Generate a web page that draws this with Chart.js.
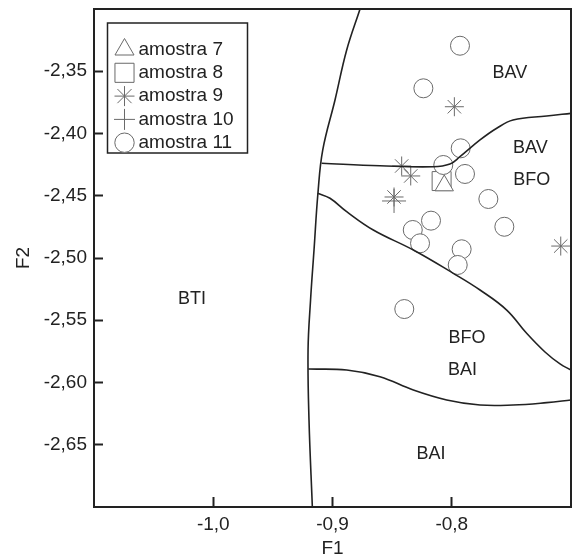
<!DOCTYPE html>
<html>
<head>
<meta charset="utf-8">
<script src="https://cdn.jsdelivr.net/npm/chart.js@4.4.1/dist/chart.umd.min.js"></script>
<style>
  html, body { margin: 0; padding: 0; background: #fff; }
  #wrap { width: 574px; height: 556px; }
</style>
</head>
<body>
<div id="wrap"><canvas id="chart" width="574" height="556"></canvas></div>
<script>
// ---- Axis ticks ----
const xTickValues = [-1.0, -0.9, -0.8];
const yTickValues = [-2.35, -2.40, -2.45, -2.50, -2.55, -2.60, -2.65];

// ---- Samples (F1, F2) ----
const amostra7F1 = [-0.8063];
const amostra7F2 = [-2.4418];

const amostra8F1 = [-0.8085];
const amostra8F2 = [-2.4382];

const amostra9F1 = [-0.7978, -0.8420, -0.8344, -0.8484, -0.7086];
const amostra9F2 = [-2.3785, -2.4261, -2.4341, -2.4510, -2.4904];

const amostra10F1 = [-0.8484];
const amostra10F2 = [-2.4542];

const amostra11F1 = [-0.7931, -0.8238, -0.7925, -0.8071, -0.7889, -0.7693, -0.7559,
                     -0.8174, -0.8327, -0.8266, -0.7917, -0.7950, -0.8398];
const amostra11F2 = [-2.3295, -2.3637, -2.4119, -2.4253, -2.4325, -2.4526, -2.4749,
                     -2.4700, -2.4775, -2.4882, -2.4930, -2.5056, -2.5410];

// ---- Discriminant boundaries ----
const btiEdgeF1 = [-0.8769, -0.8881, -0.8979, -0.9082, -0.9122, -0.9155, -0.9184, -0.9205, -0.9197, -0.9169];
const btiEdgeF2 = [-2.3000, -2.3329, -2.3731, -2.4133, -2.4478, -2.4936, -2.5337, -2.5739, -2.6301, -2.7000];

const bavEdgeF1 = [-0.9091, -0.8602, -0.8157, -0.8015, -0.7931, -0.7763, -0.7623, -0.7486, -0.7204, -0.7000];
const bavEdgeF2 = [-2.4239, -2.4259, -2.4267, -2.4245, -2.4186, -2.4052, -2.3958, -2.3892, -2.3859, -2.3838];

const bfoEdgeF1 = [-0.9124, -0.9021, -0.8881, -0.8658, -0.8322, -0.7987, -0.7763, -0.7539, -0.7372, -0.7218, -0.7092, -0.7000];
const bfoEdgeF2 = [-2.4480, -2.4520, -2.4628, -2.4775, -2.4936, -2.5123, -2.5257, -2.5418, -2.5605, -2.5755, -2.5851, -2.5900];

const baiEdgeF1 = [-0.9203, -0.8881, -0.8602, -0.8322, -0.8042, -0.7763, -0.7486, -0.7204, -0.7000];
const baiEdgeF2 = [-2.5892, -2.5900, -2.5953, -2.6060, -2.6140, -2.6181, -2.6181, -2.6162, -2.6141];

// ---- Region labels ----
const regionNames = ['BAV', 'BAV', 'BFO', 'BFO', 'BAI', 'BAI', 'BTI'];
const regionF1 = [-0.7512, -0.7340, -0.7330, -0.7872, -0.7910, -0.8174, -1.0178];
const regionF2 = [-2.3518, -2.4120, -2.4373, -2.5639, -2.5896, -2.6572, -2.5329];

// ---- Helpers ----
const FONT = '"Liberation Sans", Arial, Helvetica, sans-serif';
const INK = '#222222';
const MARK = '#6a6a6a';

function toPoints(xs, ys) {
    return xs.map((v, i) => ({ x: v, y: ys[i] }));
}

function commaNum(v, digits) {
    return v.toFixed(digits).replace('.', ',');
}

function sampleSet(label, xs, ys, style, radius, order) {
    return {
        label: label,
        data: toPoints(xs, ys),
        pointStyle: style,
        pointRadius: radius,
        pointBorderColor: MARK,
        pointBackgroundColor: '#ffffff',
        pointBorderWidth: 1,
        showLine: false,
        order: order
    };
}

function edgeSet(xs, ys) {
    return {
        label: '',
        data: toPoints(xs, ys),
        showLine: true,
        borderColor: INK,
        borderWidth: 1.6,
        pointRadius: 0,
        tension: 0.4,
        fill: false,
        order: 0
    };
}

// no scale padding: the plot box is fixed
function fixBox(s, size) {
    if (s.isHorizontal()) s.height = size; else s.width = size;
    s.paddingLeft = 0;
    s.paddingRight = 0;
    s.paddingTop = 0;
    s.paddingBottom = 0;
}

const legendItems = [
    { text: 'amostra 7', style: 'triangle', r: 11 },
    { text: 'amostra 8', style: 'rect', r: 13.5 },
    { text: 'amostra 9', style: 'star', r: 10 },
    { text: 'amostra 10', style: 'cross', r: 10.5 },
    { text: 'amostra 11', style: 'circle', r: 9.7 }
];

// ---- Frame, region names and legend box ----
const decorPlugin = {
    id: 'decor',
    afterDraw(chart) {
        const { ctx, chartArea: a, scales: { x, y } } = chart;
        ctx.save();

        ctx.strokeStyle = INK;
        ctx.lineWidth = 2;
        ctx.strokeRect(a.left, a.top, a.right - a.left, a.bottom - a.top);

        ctx.fillStyle = INK;
        ctx.font = '18px ' + FONT;
        ctx.textAlign = 'center';
        ctx.textBaseline = 'middle';
        regionNames.forEach((t, i) => {
            ctx.fillText(t, x.getPixelForValue(regionF1[i]), y.getPixelForValue(regionF2[i]));
        });

        // legend
        const bx = a.left + 13.5, by = a.top + 14;
        ctx.lineWidth = 1.5;
        ctx.strokeStyle = INK;
        ctx.fillStyle = '#ffffff';
        ctx.fillRect(bx, by, 140, 130);
        ctx.strokeRect(bx, by, 140, 130);

        ctx.font = '19px ' + FONT;
        ctx.textAlign = 'left';
        legendItems.forEach((it, i) => {
            const cy = by + 26.5 + i * 23.3;
            ctx.strokeStyle = MARK;
            ctx.fillStyle = '#ffffff';
            ctx.lineWidth = 1;
            Chart.helpers.drawPoint(ctx, { pointStyle: it.style, radius: it.r, rotation: 0, borderWidth: 1 }, bx + 17, cy);
            ctx.fillStyle = INK;
            ctx.fillText(it.text, bx + 31, cy);
        });

        ctx.restore();
    }
};

// ---- Chart ----
function initChart() {
    const ctx = document.getElementById('chart');

    new Chart(ctx, {
        type: 'scatter',
        data: {
            datasets: [
                sampleSet('amostra 7', amostra7F1, amostra7F2, 'triangle', 10.6, 1),
                sampleSet('amostra 8', amostra8F1, amostra8F2, 'rect', 13.4, 3),
                sampleSet('amostra 9', amostra9F1, amostra9F2, 'star', 9.5, 4),
                sampleSet('amostra 10', amostra10F1, amostra10F2, 'cross', 12, 5),
                sampleSet('amostra 11', amostra11F1, amostra11F2, 'circle', 9.5, 2),
                edgeSet(btiEdgeF1, btiEdgeF2),
                edgeSet(bavEdgeF1, bavEdgeF2),
                edgeSet(bfoEdgeF1, bfoEdgeF2),
                edgeSet(baiEdgeF1, baiEdgeF2)
            ]
        },
        options: {
            responsive: false,
            animation: false,
            devicePixelRatio: 1,
            events: [],
            layout: {
                autoPadding: false,
                padding: { top: 9, right: 3, left: 0, bottom: 0 }
            },
            plugins: {
                legend: { display: false },
                tooltip: { enabled: false }
            },
            scales: {
                x: {
                    type: 'linear',
                    min: -1.1,
                    max: -0.7,
                    afterBuildTicks: s => { s.ticks = xTickValues.map(v => ({ value: v })); },
                    afterFit: s => fixBox(s, 49),
                    ticks: {
                        color: INK,
                        font: { family: FONT, size: 19 },
                        padding: 16,
                        maxRotation: 0,
                        callback: v => commaNum(v, 1)
                    },
                    grid: {
                        drawOnChartArea: false,
                        drawTicks: true,
                        tickLength: -10,
                        tickWidth: 2,
                        tickColor: INK
                    },
                    border: { color: INK, width: 2 },
                    title: {
                        display: true,
                        text: 'F1',
                        color: INK,
                        font: { family: FONT, size: 19 },
                        padding: { top: 0, bottom: -4 }
                    }
                },
                y: {
                    type: 'linear',
                    min: -2.70,
                    max: -2.30,
                    afterBuildTicks: s => { s.ticks = yTickValues.map(v => ({ value: v })); },
                    afterFit: s => fixBox(s, 94),
                    ticks: {
                        color: INK,
                        font: { family: FONT, size: 19 },
                        padding: 16,
                        callback: v => commaNum(v, 2)
                    },
                    grid: {
                        drawOnChartArea: false,
                        drawTicks: true,
                        tickLength: -9,
                        tickWidth: 2,
                        tickColor: INK
                    },
                    border: { color: INK, width: 2 },
                    title: {
                        display: true,
                        text: 'F2',
                        color: INK,
                        font: { family: FONT, size: 19 },
                        padding: { top: 12, bottom: 0 }
                    }
                }
            }
        },
        plugins: [decorPlugin]
    });
}

document.addEventListener('DOMContentLoaded', initChart);
</script>
</body>
</html>
